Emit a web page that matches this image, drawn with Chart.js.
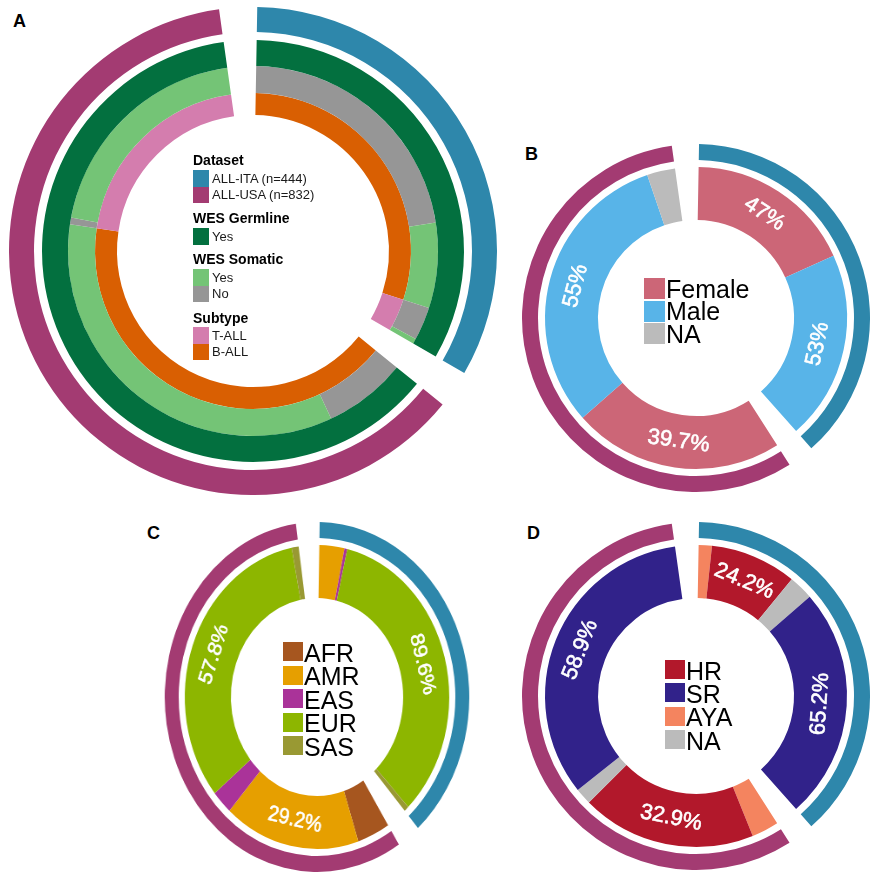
<!DOCTYPE html>
<html><head><meta charset="utf-8">
<script src="https://cdn.jsdelivr.net/npm/chart.js@4.4.0/dist/chart.umd.min.js"></script>
<style>
body{margin:0;background:#fff;width:875px;height:875px;overflow:hidden;position:relative;font-family:"Liberation Sans",Arial,sans-serif;}
.abs{position:absolute;}
.plab{position:absolute;font-weight:bold;font-size:18px;line-height:18px;color:#000;}
.lt{position:absolute;font-weight:bold;font-size:14px;line-height:16px;color:#000;white-space:nowrap;}
.li{position:absolute;font-size:13px;line-height:16px;color:#1a1a1a;white-space:nowrap;}
.lb{position:absolute;}
.big{position:absolute;font-size:25px;line-height:24px;color:#000;white-space:nowrap;}
</style></head><body>
<div class="plab" style="left:13px;top:12px">A</div>
<div class="plab" style="left:525px;top:145px">B</div>
<div class="plab" style="left:147px;top:524px">C</div>
<div class="plab" style="left:527px;top:524px">D</div>

<canvas id="cA" class="abs" width="488" height="488" style="left:9px;top:7px;width:488px;height:488px"></canvas>
<canvas id="cB" class="abs" width="348" height="348" style="left:522px;top:144px;width:348px;height:348px"></canvas>
<div id="wC" class="abs" style="left:142px;top:522px;width:350px;height:350px;transform:scaleX(0.87);transform-origin:175px 175px">
  <canvas id="cC" class="abs" width="350" height="350" style="left:0;top:0;width:350px;height:350px"></canvas>
</div>
<canvas id="cD" class="abs" width="348" height="348" style="left:522px;top:522px;width:348px;height:348px"></canvas>

<script>
// ---------- data ----------
const cohorts = ['ALL-ITA (n=444)', 'ALL-USA (n=832)'];
const cohortN = [444, 832];

// Panel A (counts)
const germlineCats = ['Yes'];
const germlineITA = [444];
const germlineUSA = [832];
const somaticCats = ['Yes', 'No'];
const somaticSeqITA = ['No', 'Yes', 'No', 'Yes'];
const somaticITA = [299, 100, 39, 6];
const somaticSeqUSA = ['No', 'Yes', 'No', 'Yes'];
const somaticUSA = [97, 460, 8, 267];
const subtypeCats = ['T-ALL', 'B-ALL'];
const subtypeSeq = ['B-ALL', 'T-ALL'];
const subtypeITA = [399, 45];
const subtypeUSA = [557, 275];

// Panel B (percent)
const sexCats = ['Female', 'Male', 'NA'];
const sexITA = [47, 53, 0];
const sexUSA = [39.7, 55, 5.3];
const sexShare = [40.2, 59.8];

// Panel C (percent)
const ancCats = ['AFR', 'AMR', 'EAS', 'EUR', 'SAS'];
const ancITA = [0, 8.0, 0.9, 89.6, 1.5];
const ancUSA = [7.0, 29.2, 4.5, 57.8, 1.5];
const ancShare = [40.2, 59.8];

// Panel D (percent)
const riskCats = ['HR', 'SR', 'AYA', 'NA'];
const riskSeq = ['AYA', 'HR', 'NA', 'SR'];
const riskITA = [3.7, 24.2, 6.9, 65.2];
const riskUSA = [5.1, 32.9, 3.1, 58.9];
const riskShare = [40.2, 59.8];

// ---------- styles ----------
const T = 'rgba(0,0,0,0)';
const cohortColors = ['#2e87ab', '#a33b72'];
const germColor = {Yes: '#03703f'};
const somColor = {Yes: '#74c476', No: '#969696'};
const subColor = {'T-ALL': '#d47dae', 'B-ALL': '#d95f02'};
const sexColor = {Female: '#cc6677', Male: '#58b4e8', NA: '#bbbbbb'};
const ancColor = {AFR: '#a6561f', AMR: '#e69f00', EAS: '#aa3399', EUR: '#8db600', SAS: '#999933'};
const riskColor = {HR: '#b2182b', SR: '#31228a', AYA: '#f4845f', NA: '#bbbbbb'};

const GAP_DEG = 9, START_DEG = 1;

function ring(itaVals, usaVals, itaCols, usaCols, share, itaLabels, usaLabels, weight) {
  const sI = itaVals.reduce((a, b) => a + b, 0), sU = usaVals.reduce((a, b) => a + b, 0);
  const ita = itaVals.map(v => v / sI * share[0]);
  const usa = usaVals.map(v => v / sU * share[1]);
  const gap = (share[0] + share[1]) * GAP_DEG / (360 - 2 * GAP_DEG);
  return {
    data: [...ita, gap, ...usa, gap],
    backgroundColor: [...itaCols, T, ...usaCols, T],
    labels: [...(itaLabels || itaVals.map(() => '')), '', ...(usaLabels || usaVals.map(() => '')), ''],
    borderWidth: 0, weight: weight
  };
}
function spacer(w) { return {data: [1], backgroundColor: [T], borderWidth: 0, weight: w}; }
function pctLabels(vals) { return vals.map(v => v >= 20 ? v + '%' : ''); }

const arcLabels = {
  id: 'arcLabels',
  afterDatasetsDraw(chart, args, opts) {
    const ctx = chart.ctx;
    chart.data.datasets.forEach((ds, i) => {
      if (!ds.labels) return;
      const meta = chart.getDatasetMeta(i);
      meta.data.forEach((arc, j) => {
        const t = ds.labels[j]; if (!t) return;
        const p = arc.getProps(['startAngle', 'endAngle', 'innerRadius', 'outerRadius', 'x', 'y'], true);
        const a = (p.startAngle + p.endAngle) / 2, r = (p.innerRadius + p.outerRadius) / 2;
        let rot = a + Math.PI / 2;
        const deg = ((rot * 180 / Math.PI) % 360 + 360) % 360;
        if (deg > 90 && deg < 270) rot -= Math.PI;
        ctx.save();
        ctx.translate(p.x + r * Math.cos(a), p.y + r * Math.sin(a));
        ctx.rotate(rot);
        ctx.font = (opts.size || 22) + 'px "Liberation Sans", Arial, sans-serif';
        ctx.fillStyle = '#ffffff'; ctx.textAlign = 'center'; ctx.textBaseline = 'middle';
        ctx.strokeStyle = '#ffffff'; ctx.lineWidth = 0.6;
        ctx.fillText(t, 0, 0);
        ctx.strokeText(t, 0, 0);
        ctx.restore();
      });
    });
  }
};

function makeChart(id, datasets, cutout) {
  return new Chart(document.getElementById(id), {
    type: 'doughnut',
    data: {datasets},
    options: {
      responsive: false, animation: false, devicePixelRatio: 1,
      rotation: START_DEG, circumference: 360, cutout: cutout,
      layout: {padding: 0},
      plugins: {legend: {display: false}, tooltip: {enabled: false}, arcLabels: {size: 22}},
      events: []
    },
    plugins: [arcLabels]
  });
}

// Panel A
makeChart('cA', [
  ring([cohortN[0]], [cohortN[1]], [cohortColors[0]], [cohortColors[1]], cohortN, null, null, 25),
  spacer(8),
  ring(germlineITA, germlineUSA, germlineITA.map(() => germColor.Yes), germlineUSA.map(() => germColor.Yes), cohortN, null, null, 26),
  ring(somaticITA, somaticUSA, somaticSeqITA.map(c => somColor[c]), somaticSeqUSA.map(c => somColor[c]), cohortN, null, null, 27),
  ring(subtypeITA, subtypeUSA, subtypeSeq.map(c => subColor[c]), subtypeSeq.map(c => subColor[c]), cohortN, null, null, 22)
], 136);

// Panel B
makeChart('cB', [
  ring([1], [1], [cohortColors[0]], [cohortColors[1]], sexShare, null, null, 16),
  spacer(7),
  ring(sexITA, sexUSA, sexCats.map(c => sexColor[c]), sexCats.map(c => sexColor[c]), sexShare, pctLabels(sexITA), pctLabels(sexUSA), 53)
], 98);

// Panel C
makeChart('cC', [
  ring([1], [1], [cohortColors[0]], [cohortColors[1]], ancShare, null, null, 16),
  spacer(7),
  ring(ancITA, ancUSA, ancCats.map(c => ancColor[c]), ancCats.map(c => ancColor[c]), ancShare, pctLabels(ancITA), pctLabels(ancUSA), 53)
], 99);

// Panel D
makeChart('cD', [
  ring([1], [1], [cohortColors[0]], [cohortColors[1]], riskShare, null, null, 16),
  spacer(7),
  ring(riskITA, riskUSA, riskSeq.map(c => riskColor[c]), riskSeq.map(c => riskColor[c]), riskShare, pctLabels(riskITA), pctLabels(riskUSA), 53)
], 98);

// ---------- legends ----------
function addEl(parent, cls, x, y, w, h, bg, text) {
  const d = document.createElement('div');
  d.className = cls; d.style.left = x + 'px'; d.style.top = y + 'px';
  if (w) d.style.width = w + 'px';
  if (h) d.style.height = h + 'px';
  if (bg) d.style.background = bg;
  if (text) d.textContent = text;
  parent.appendChild(d);
}
// Panel A legend
const legA = [
  {title: 'Dataset', ty: 152, items: [[cohorts[0], cohortColors[0]], [cohorts[1], cohortColors[1]]], by: 170},
  {title: 'WES Germline', ty: 209.5, items: [['Yes', germColor.Yes]], by: 228},
  {title: 'WES Somatic', ty: 250.5, items: [['Yes', somColor.Yes], ['No', somColor.No]], by: 269},
  {title: 'Subtype', ty: 309.5, items: [['T-ALL', subColor['T-ALL']], ['B-ALL', subColor['B-ALL']]], by: 327}
];
legA.forEach(g => {
  addEl(document.body, 'lt', 193, g.ty, 0, 0, null, g.title);
  g.items.forEach((it, k) => {
    const y = g.by + k * 16.5;
    addEl(document.body, 'lb', 193, y, 16, 16.5, it[1]);
    addEl(document.body, 'li', 212, y + 0.5, 0, 0, null, it[0]);
  });
});
function bigLegend(parent, cats, cols, x, y0, pitch, bw, bh) {
  cats.forEach((c, k) => {
    const y = y0 + k * pitch;
    addEl(parent, 'lb', x, y, bw, bh, cols[c]);
    addEl(parent, 'big', x + bw + 1, y - 1.5, 0, 0, null, c);
  });
}
bigLegend(document.body, sexCats, sexColor, 644, 278, 22.6, 21, 21);
bigLegend(document.body, ancCats, ancColor, 283, 642, 23.6, 20, 19);
bigLegend(document.body, riskCats, riskColor, 665, 660, 23.4, 20, 19);
</script>
</body></html>
